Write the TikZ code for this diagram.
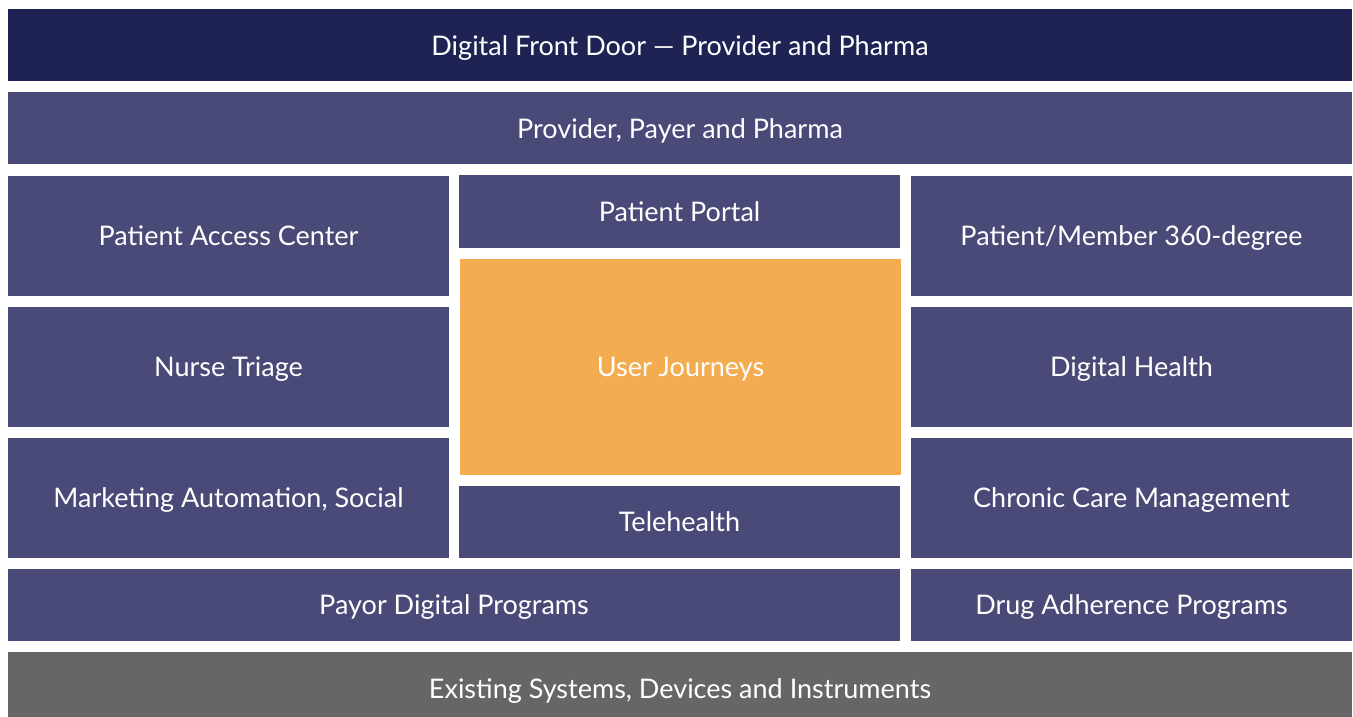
\documentclass[tikz,border=0pt]{standalone}
\usepackage{fontspec}
\setmainfont{Lato}
\definecolor{navy}{HTML}{1F2353}
\definecolor{purp}{HTML}{4A4A78}
\definecolor{orng}{HTML}{F4AC50}
\definecolor{grayb}{HTML}{666666}
\begin{document}
\begin{tikzpicture}[x=1pt,y=-1pt,
  lbl/.style={text=white,font=\fontsize{27}{30}\selectfont,inner sep=0pt,text height=19.4pt,text depth=0pt}]
\useasboundingbox (0,0) rectangle (1353,717);
\fill[white] (0,0) rectangle (1353,717);
% rectangles
\fill[navy] (8,9) rectangle (1352,81);
\fill[purp] (8,92) rectangle (1352,164);
\fill[purp] (8,176) rectangle (449,296);
\fill[purp] (8,307) rectangle (449,427);
\fill[purp] (8,438) rectangle (449,558);
\fill[purp] (459,175) rectangle (900,248);
\fill[orng] (460,259) rectangle (901,475);
\fill[purp] (459,486) rectangle (900,558);
\fill[purp] (911,176) rectangle (1352,296);
\fill[purp] (911,307) rectangle (1352,427);
\fill[purp] (911,438) rectangle (1352,558);
\fill[purp] (8,569) rectangle (900,641);
\fill[purp] (911,569) rectangle (1352,641);
\fill[grayb] (8,652) rectangle (1352,717);
% labels
\node[lbl] (top) at (680,45.5) {Digital Front Door — Provider and Pharma};
\node[lbl] (ppp) at (680,128.5) {Provider, Payer and Pharma};
\node[lbl] (pac) at (228.5,236) {Patient Access Center};
\node[lbl] (nt) at (228.5,367) {Nurse Triage};
\node[lbl] (ma) at (228.5,498) {Marketing Automation, Social};
\node[lbl] (pp) at (679.5,211.5) {Patient Portal};
\node[lbl] (uj) at (680.5,367) {User Journeys};
\node[lbl] (th) at (679.5,522) {Telehealth};
\node[lbl] (pm) at (1131.5,236) {Patient/Member 360-degree};
\node[lbl] (dh) at (1131.5,367) {Digital Health};
\node[lbl] (ccm) at (1131.5,498) {Chronic Care Management};
\node[lbl] (pdp) at (454,605) {Payor Digital Programs};
\node[lbl] (dap) at (1131.5,605) {Drug Adherence Programs};
\node[lbl] (es) at (680,688.5) {Existing Systems, Devices and Instruments};
\end{tikzpicture}
\end{document}
